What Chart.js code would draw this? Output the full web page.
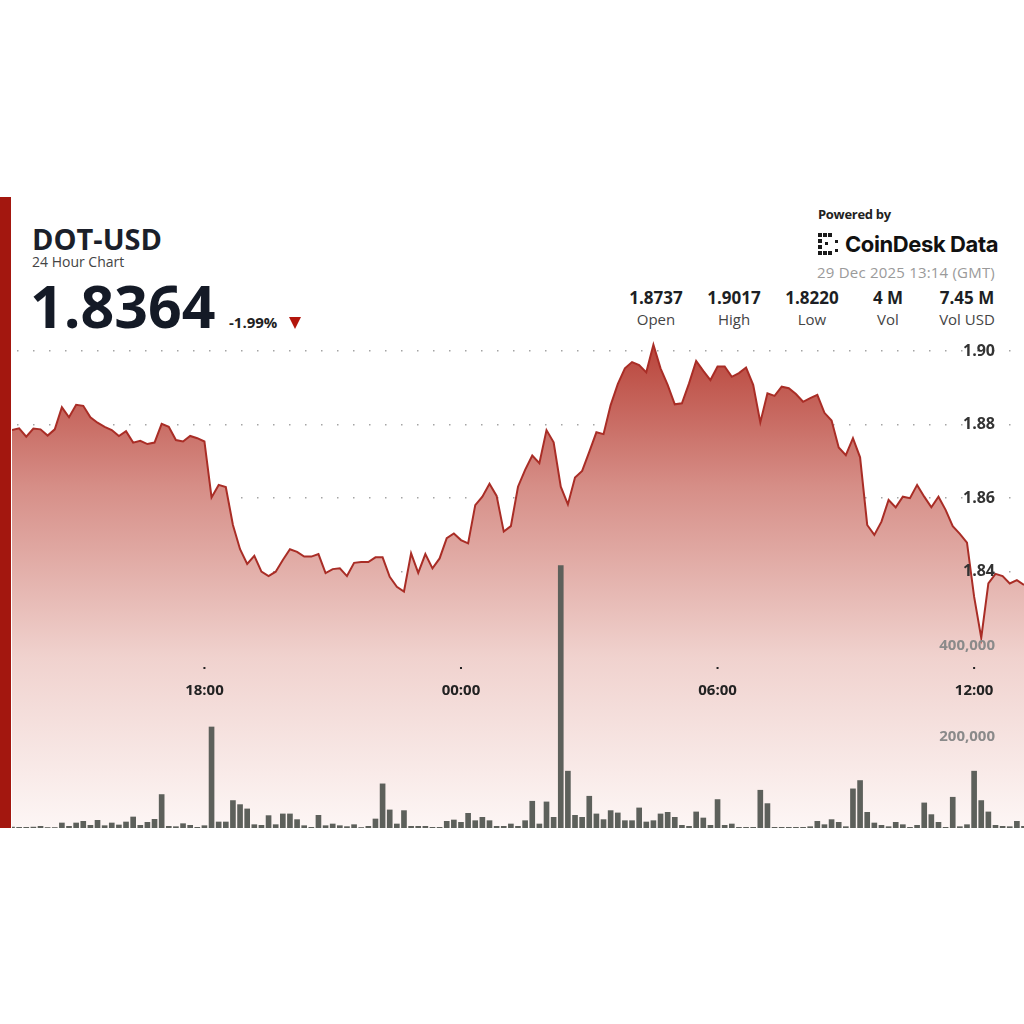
<!DOCTYPE html>
<html>
<head>
<meta charset="utf-8">
<script src="https://cdn.jsdelivr.net/npm/chart.js@4.4.1/dist/chart.umd.min.js"></script>
<style>
  body { margin: 0; background: #fff; }
  #page { position: relative; width: 1024px; height: 1024px; overflow: hidden; font-family: 'Open Sans', sans-serif; color: #1b1f2a; }
  .abs { position: absolute; line-height: 1; white-space: nowrap; }
  #redbar { position: absolute; left: 0; top: 197px; width: 11px; height: 631px; background: #a3170f; }
  #chartbox { position: absolute; left: 12px; top: 340px; width: 1012px; height: 488px; }
  .stat { position: absolute; width: 100px; text-align: center; line-height: 1; }
  .stat .v { font-size: 17px; font-weight: 700; color: #1d1f24; }
  .stat .l { font-size: 15px; color: #444; margin-top: 6px; }
</style>
</head>
<body>
<div id="page">
  <div id="redbar"></div>

  <div class="abs" style="left:32px; top:224px; font-size:29px; font-weight:700; color:#1b1f2a;">DOT-USD</div>
  <div class="abs" style="left:32px; top:255px; font-size:14px; color:#444;">24 Hour Chart</div>
  <div class="abs" style="left:30px; top:276px; font-size:59px; font-weight:700; color:#141a26;">1.8364</div>
  <div class="abs" style="left:229px; top:315px; font-size:15px; font-weight:700; color:#222;">-1.99%</div>
  <div style="position:absolute; left:289px; top:317px; width:0; height:0; border-left:6.5px solid transparent; border-right:6.5px solid transparent; border-top:12px solid #b3150c;"></div>

  <div class="abs" style="left:818px; top:208px; font-size:13px; font-weight:700; color:#222; letter-spacing:-0.3px;">Powered by</div>
  <svg style="position:absolute; left:818px; top:233px;" width="24" height="23" viewBox="0 0 24 23">
    <g fill="#1a1a1a">
      <rect x="0" y="0" width="4" height="4"/><rect x="5" y="0" width="4" height="4"/><rect x="10" y="0" width="4" height="4"/>
      <rect x="0" y="6" width="4" height="4"/><rect x="0" y="12" width="4" height="4"/>
      <rect x="0" y="18" width="4" height="4"/><rect x="5" y="18" width="4" height="4"/><rect x="10" y="18" width="4" height="4"/>
      <rect x="7" y="9" width="3" height="3"/>
      <rect x="17" y="7" width="3" height="3"/><rect x="17" y="16" width="3" height="3"/>
    </g>
  </svg>
  <div class="abs" style="left:845px; top:233px; font-family:Inter, sans-serif; font-size:22px; font-weight:700; color:#111; letter-spacing:-0.4px;">CoinDesk Data</div>
  <div class="abs" style="right:29px; top:265px; font-size:15px; color:#9a9a9a; letter-spacing:0.2px;">29 Dec 2025 13:14 (GMT)</div>

  <div class="stat" style="left:606px; top:289px;"><div class="v">1.8737</div><div class="l">Open</div></div>
  <div class="stat" style="left:684px; top:289px;"><div class="v">1.9017</div><div class="l">High</div></div>
  <div class="stat" style="left:762px; top:289px;"><div class="v">1.8220</div><div class="l">Low</div></div>
  <div class="stat" style="left:838px; top:289px;"><div class="v">4 M</div><div class="l">Vol</div></div>
  <div class="stat" style="left:917px; top:289px;"><div class="v">7.45 M</div><div class="l">Vol USD</div></div>

  <div id="chartbox"><canvas id="dotChart" width="1012" height="488"></canvas></div>
</div>

<script>
// 10-minute samples, first one at 13:30 on the previous day (minutes since midnight)
const startMinute = 810;
const stepMinutes = 10;

const prices = [
  1.8785, 1.8790, 1.8767, 1.8789, 1.8787, 1.8770, 1.8787, 1.8847, 1.8820, 1.8854,
  1.8851, 1.8820, 1.8805, 1.8794, 1.8785, 1.8769, 1.8782, 1.8751, 1.8756, 1.8747,
  1.8751, 1.8802, 1.8794, 1.8758, 1.8754, 1.8769, 1.8763, 1.8754, 1.8602, 1.8636,
  1.8630, 1.8527, 1.8461, 1.8421, 1.8443, 1.8400, 1.8388, 1.8400, 1.8432, 1.8461,
  1.8454, 1.8441, 1.8441, 1.8448, 1.8396, 1.8407, 1.8409, 1.8388, 1.8424, 1.8426,
  1.8426, 1.8439, 1.8439, 1.8386, 1.8359, 1.8346, 1.8450, 1.8397, 1.8448, 1.8409,
  1.8436, 1.8491, 1.8504, 1.8486, 1.8477, 1.8581, 1.8604, 1.8639, 1.8606, 1.8509,
  1.8524, 1.8631, 1.8677, 1.8716, 1.8695, 1.8785, 1.8752, 1.8631, 1.8583, 1.8656,
  1.8674, 1.8726, 1.8779, 1.8774, 1.8853, 1.8910, 1.8953, 1.8970, 1.8962, 1.8942,
  1.9017, 1.8953, 1.8908, 1.8855, 1.8858, 1.8912, 1.8973, 1.8946, 1.8921, 1.8958,
  1.8958, 1.8930, 1.8940, 1.8955, 1.8908, 1.8806, 1.8885, 1.8878, 1.8903, 1.8899,
  1.8883, 1.8862, 1.8872, 1.8881, 1.8832, 1.8811, 1.8738, 1.8717, 1.8763, 1.8711,
  1.8527, 1.8500, 1.8536, 1.8595, 1.8575, 1.8604, 1.8600, 1.8636, 1.8604, 1.8575,
  1.8604, 1.8568, 1.8524, 1.8503, 1.8479, 1.8332, 1.8220, 1.8368, 1.8394, 1.8388,
  1.8368, 1.8377, 1.8364
];

const volumes = [
  2000, 1500, 1500, 2000, 3700, 1000, 1000, 11000, 3700, 11000,
  14700, 5900, 16900, 5100, 11000, 6600, 13200, 24200, 5900, 12500,
  19100, 73500, 3700, 2900, 9500, 5900, 1500, 5100, 222000, 13200,
  13200, 60300, 51400, 41900, 7300, 5900, 27200, 7300, 30900, 30900,
  18400, 5100, 1500, 27900, 5100, 8800, 5100, 3000, 7300, 1000,
  3700, 19800, 97000, 39700, 8800, 38200, 3700, 3700, 3700, 1500,
  1500, 14700, 17600, 12500, 32300, 16100, 23500, 16100, 3700, 3700,
  8800, 3700, 16100, 58800, 8800, 57300, 23500, 576700, 124900, 27900,
  23500, 69800, 30900, 18400, 38200, 33100, 16100, 16100, 44100, 13200,
  16100, 30900, 34500, 23500, 5900, 3700, 35300, 22000, 5900, 62500,
  5900, 8800, 1500, 1500, 1500, 83000, 53600, 1500, 1500, 1500,
  1500, 1500, 2900, 14700, 7300, 18400, 12500, 2900, 86000, 104300,
  34500, 11000, 5900, 2900, 12500, 7300, 1500, 5900, 55100, 29400,
  12500, 1500, 67600, 2900, 7300, 124900, 60300, 35300, 5900, 3700,
  2900, 14700, 3700
];

const tickTimes = [1080, 1440, 1800, 2160];
const tickLabels = ['18:00', '00:00', '06:00', '12:00'];
const priceTicks = [1.84, 1.86, 1.88, 1.90];
const volumeTicks = [200000, 400000];

const times = prices.map((p, i) => startMinute + i * stepMinutes);

// dotted grid look
const dotGrid = { color: 'rgba(105,105,105,0.6)', lineWidth: 1.5, drawTicks: false };
const dotBorder = { display: false, dash: [1.5, 14.5], dashOffset: 11 };

// axis labels are drawn inside the plot, like the original widget
const axisLabels = {
  id: 'axisLabels',
  afterDraw(chart) {
    const c = chart.ctx;
    const area = chart.chartArea;
    const xs = chart.scales.x;
    const ys = chart.scales.y;
    const yv = chart.scales.yv;
    c.save();
    c.textBaseline = 'middle';

    c.fillStyle = '#222';
    c.font = 'bold 15px "Open Sans"';
    c.textAlign = 'center';
    tickTimes.forEach((t, i) => {
      const px = xs.getPixelForValue(t);
      c.fillRect(px - 1, area.top + 327, 2, 2);
      c.fillText(tickLabels[i], px, area.top + 351);
    });

    c.textAlign = 'right';
    const labelX = area.right - 29;
    c.fillStyle = '#333';
    c.font = 'bold 16px "Open Sans"';
    priceTicks.forEach(v => c.fillText(v.toFixed(2), labelX, ys.getPixelForValue(v)));

    c.fillStyle = '#8a8a8a';
    c.font = 'bold 15px "Open Sans"';
    volumeTicks.forEach(v => c.fillText(v.toLocaleString('en-US'), labelX, yv.getPixelForValue(v)));
    c.restore();
  }
};

function fillGradient(context) {
  const chart = context.chart;
  const area = chart.chartArea;
  if (!area) return 'rgba(200,100,90,0.5)';
  const g = chart.ctx.createLinearGradient(0, area.top, 0, area.bottom);
  g.addColorStop(0, 'rgb(184,66,56)');
  g.addColorStop(0.3, 'rgb(214,142,135)');
  g.addColorStop(0.65, 'rgb(240,210,206)');
  g.addColorStop(1, 'rgb(253,246,245)');
  return g;
}

const ctx = document.getElementById('dotChart').getContext('2d');
const dotChart = new Chart(ctx, {
  type: 'bar',
  data: {
    datasets: [
      {
        type: 'bar',
        label: 'Volume',
        data: times.map((t, i) => ({ x: t, y: volumes[i] })),
        yAxisID: 'yv',
        backgroundColor: '#5d605b',
        barThickness: 5,
        order: 1
      },
      {
        type: 'line',
        label: 'DOT-USD',
        data: times.map((t, i) => ({ x: t, y: prices[i] })),
        yAxisID: 'y',
        borderColor: '#a92d26',
        borderWidth: 2,
        pointRadius: 0,
        tension: 0,
        fill: 'start',
        backgroundColor: fillGradient,
        order: 2
      }
    ]
  },
  options: {
    responsive: false,
    animation: false,
    layout: { padding: 0 },
    plugins: { legend: { display: false }, tooltip: { enabled: false } },
    scales: {
      x: {
        type: 'linear',
        min: startMinute,
        max: startMinute + (prices.length - 1) * stepMinutes,
        display: false,
        offset: false
      },
      y: {
        position: 'right',
        min: 1.7703,
        max: 1.9030,
        afterBuildTicks: s => { s.ticks = priceTicks.map(v => ({ value: v })); },
        grid: dotGrid,
        border: dotBorder,
        ticks: { display: false },
        z: 1
      },
      yv: {
        position: 'right',
        min: 0,
        max: 1072500,
        afterBuildTicks: s => { s.ticks = volumeTicks.map(v => ({ value: v })); },
        grid: dotGrid,
        border: dotBorder,
        ticks: { display: false },
        z: 1
      }
    }
  },
  plugins: [axisLabels]
});
</script>
</body>
</html>
